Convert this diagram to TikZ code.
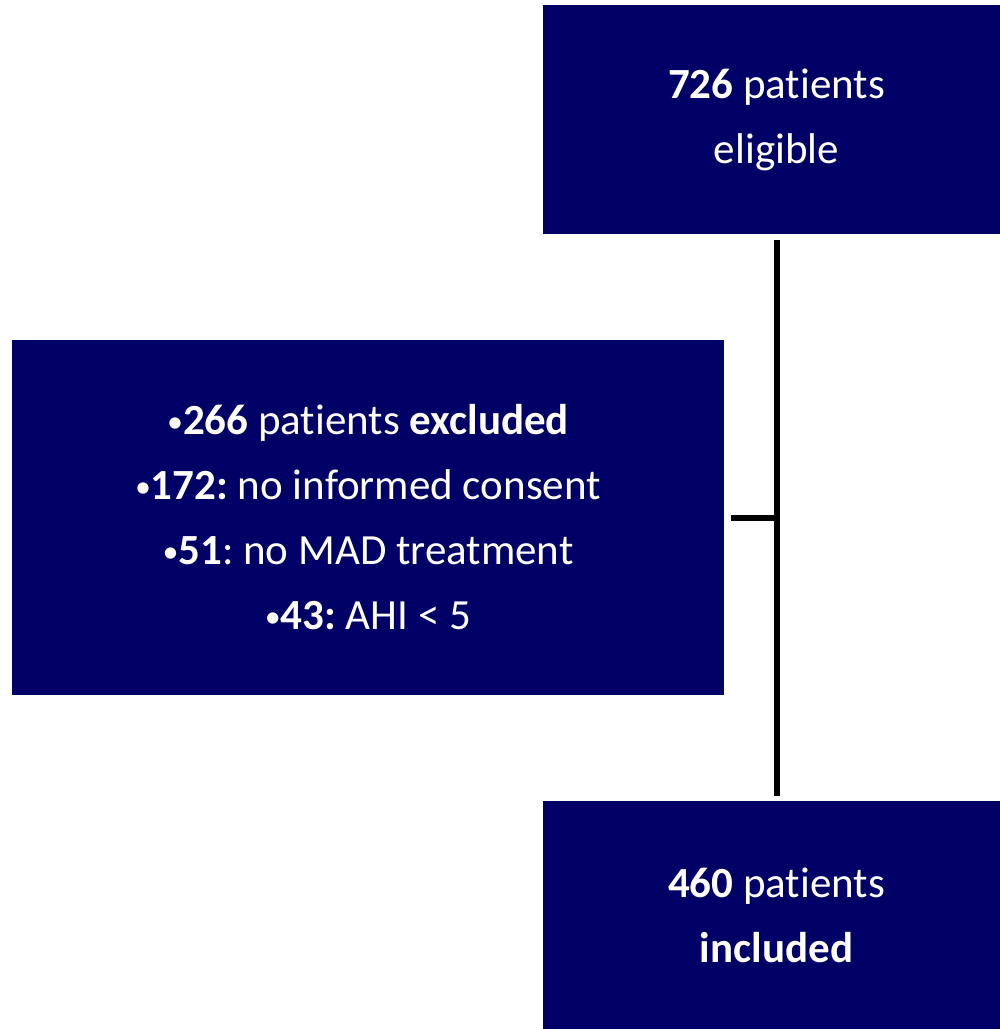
\documentclass[tikz,border=0pt]{standalone}
\usepackage{fontspec}
\setmainfont[Ligatures={NoCommon,TeX}]{Carlito}
\usepackage{xcolor}
\definecolor{navy}{RGB}{0,0,102}
\newcommand{\dotmark}{{\fontsize{32}{65}\selectfont\raisebox{2pt}{\textbullet}}}

\begin{document}
\frenchspacing
\begin{tikzpicture}
    [
      x=1pt,y=-1pt,
      flowbox/.style={fill=navy,text=white,inner sep=0pt,align=center,
        font=\fontsize{43}{65}\selectfont},
      link/.style={line width=6pt,black},
    ]

    \useasboundingbox (0,0) rectangle (1000,1029);

    \node (eligible) [flowbox,minimum width=467pt,minimum height=229pt] at (776.5,119.5)
      {\textbf{726} patients\\eligible};
    \node (excluded) [flowbox,minimum width=712pt,minimum height=355pt] at (368,517.5)
      {\dotmark\textbf{266} patients \textbf{excluded}\\
       \dotmark\textbf{172:} no informed consent\\
       \dotmark\textbf{51}: no MAD treatment\\
       \dotmark\textbf{43:} AHI < 5};
    \node (included) [flowbox,minimum width=467pt,minimum height=229pt] at (776.5,915.5)
      {\textbf{460} patients\\\textbf{included}};

    \draw [link,shorten <=6pt,shorten >=5pt] (eligible) -- (included);
    \draw [link,shorten <=7pt] (excluded.east) -- (excluded.east -| eligible.south);

  \end{tikzpicture}
\end{document}
